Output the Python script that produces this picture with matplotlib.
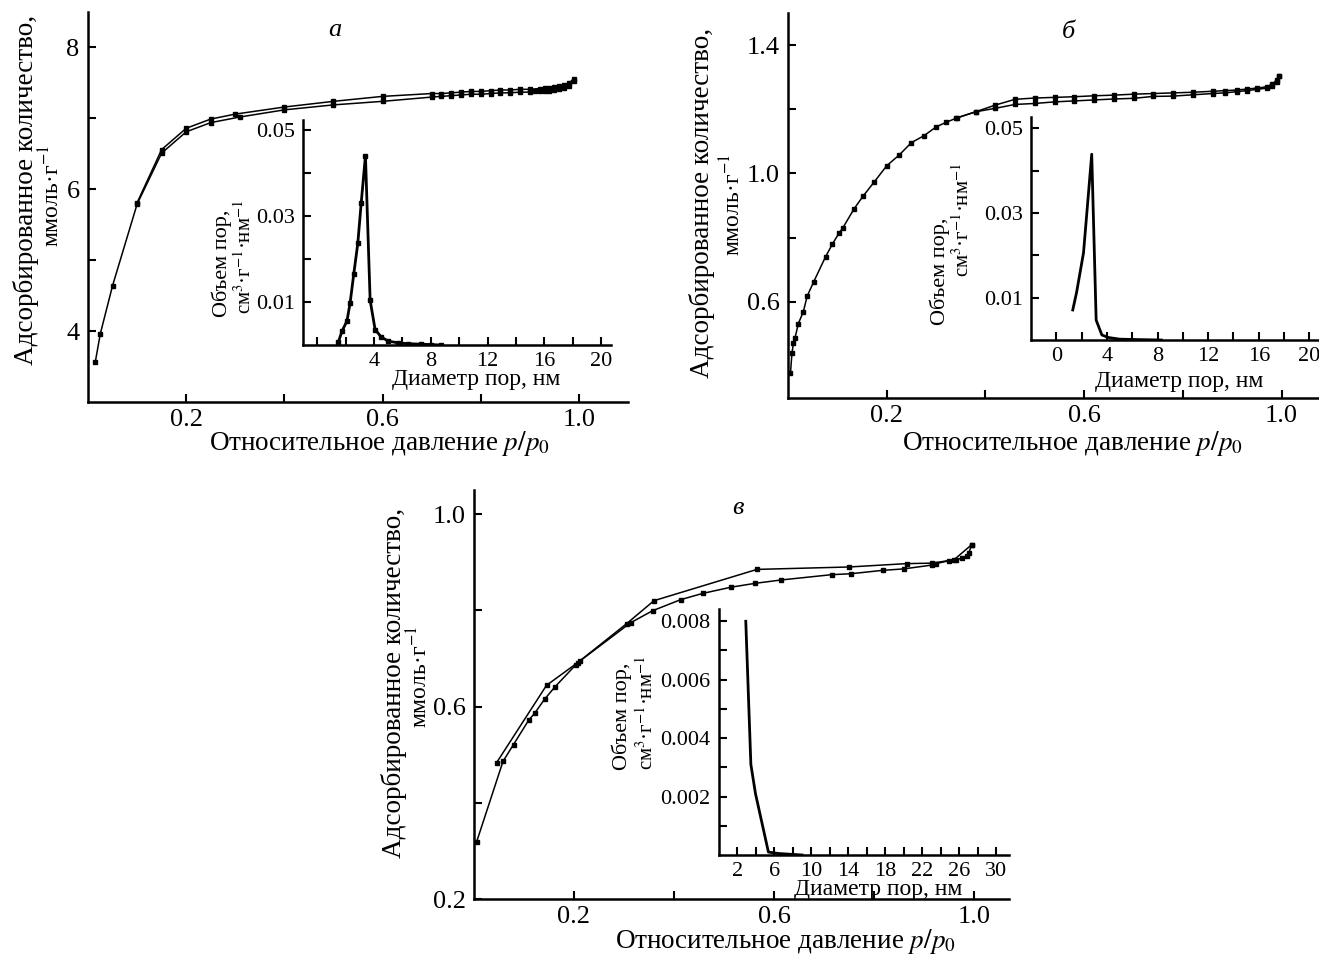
import matplotlib
matplotlib.use("Agg")
import matplotlib.pyplot as plt
from matplotlib.ticker import FixedLocator, FormatStrFormatter

plt.rcParams["font.family"] = ["Liberation Serif", "DejaVu Serif"]
plt.rcParams["mathtext.fontset"] = "stix"

W, H = 1319, 956

# --- panel a: isotherm ---
a_ads_x = [0.015, 0.025, 0.05, 0.10, 0.15, 0.20, 0.25, 0.31, 0.40, 0.50, 0.60, 0.70, 0.72, 0.74,
           0.76, 0.78, 0.80, 0.82, 0.84, 0.86, 0.88, 0.90, 0.91, 0.92, 0.93, 0.94, 0.95, 0.96,
           0.97, 0.98, 0.99]
a_ads_y = [3.57, 3.96, 4.64, 5.79, 6.51, 6.81, 6.94, 7.02, 7.12, 7.19, 7.24, 7.30, 7.31, 7.32,
           7.33, 7.34, 7.34, 7.35, 7.36, 7.36, 7.37, 7.37, 7.38, 7.38, 7.39, 7.39, 7.40, 7.41,
           7.43, 7.46, 7.52]
a_des_x = [0.99, 0.98, 0.97, 0.96, 0.95, 0.94, 0.93, 0.92, 0.90, 0.88, 0.86, 0.84, 0.82, 0.80,
           0.78, 0.76, 0.74, 0.72, 0.70, 0.60, 0.50, 0.40, 0.30, 0.25, 0.20, 0.15, 0.10]
a_des_y = [7.56, 7.50, 7.47, 7.45, 7.44, 7.43, 7.43, 7.42, 7.41, 7.41, 7.40, 7.40, 7.39, 7.38,
           7.38, 7.37, 7.36, 7.35, 7.35, 7.31, 7.24, 7.16, 7.06, 6.99, 6.86, 6.56, 5.81]
# panel a: pore size distribution
a_pore_x = [1.5, 1.76, 2.1, 2.32, 2.58, 2.86, 3.1, 3.4, 3.73, 4.08, 4.5, 5.0, 5.7, 6.4, 7.3, 8.0, 8.7]
a_pore_y = [0.0008, 0.0033, 0.0056, 0.0098, 0.0166, 0.0236, 0.033, 0.044, 0.0104, 0.0036,
            0.0019, 0.0009, 0.0005, 0.0003, 0.0002, 0.0001, 0.0]

# --- panel б ---
b_ads_x = [0.005, 0.008, 0.011, 0.014, 0.021, 0.031, 0.039, 0.052, 0.076, 0.09, 0.103, 0.111,
           0.134, 0.152, 0.175, 0.20, 0.225, 0.25, 0.276, 0.30, 0.32, 0.342, 0.38, 0.42, 0.46,
           0.50, 0.54, 0.58, 0.62, 0.66, 0.70, 0.74, 0.78, 0.82, 0.86, 0.885, 0.91, 0.93, 0.95,
           0.97, 0.98, 0.99, 0.995]
b_ads_y = [0.377, 0.44, 0.47, 0.486, 0.532, 0.569, 0.618, 0.662, 0.74, 0.78, 0.813, 0.83,
           0.89, 0.929, 0.974, 1.024, 1.057, 1.096, 1.118, 1.145, 1.159, 1.173, 1.192, 1.203, 1.215,
           1.218, 1.223, 1.226, 1.229, 1.232, 1.234, 1.24, 1.241, 1.245, 1.249, 1.251, 1.255, 1.258,
           1.262, 1.266, 1.273, 1.285, 1.303]
b_des_x = [0.995, 0.99, 0.98, 0.97, 0.95, 0.93, 0.91, 0.885, 0.86, 0.82, 0.78, 0.74, 0.70,
           0.66, 0.62, 0.58, 0.54, 0.50, 0.46, 0.42, 0.38, 0.34]
b_des_y = [1.303, 1.29, 1.278, 1.27, 1.266, 1.263, 1.26, 1.258, 1.256, 1.253, 1.251, 1.249,
           1.247, 1.244, 1.242, 1.239, 1.237, 1.235, 1.231, 1.213, 1.192, 1.172]
b_pore_x = [1.3, 1.6, 2.15, 2.8, 3.15, 3.6, 4.1, 5.0, 6.4, 8.3]
b_pore_y = [0.0071, 0.0112, 0.0206, 0.0439, 0.0047, 0.0012, 0.0006, 0.0002, 0.0001, 0.0]

# --- panel в ---
v_ads_x = [0.005, 0.058, 0.079, 0.109, 0.122, 0.141, 0.162, 0.203, 0.211, 0.313, 0.357, 0.413,
           0.457, 0.514, 0.562, 0.614, 0.715, 0.754, 0.817, 0.859, 0.916, 0.924, 0.95, 0.963,
           0.975, 0.985, 0.99, 0.995]
v_ads_y = [0.318, 0.486, 0.521, 0.571, 0.587, 0.615, 0.641, 0.686, 0.694, 0.774, 0.799, 0.822,
           0.835, 0.848, 0.856, 0.863, 0.874, 0.876, 0.883, 0.886, 0.894, 0.897, 0.903, 0.905,
           0.908, 0.912, 0.92, 0.936]
v_des_x = [0.995, 0.96, 0.916, 0.865, 0.75, 0.566, 0.36, 0.305, 0.207, 0.145, 0.045]
v_des_y = [0.936, 0.905, 0.898, 0.897, 0.89, 0.885, 0.82, 0.772, 0.691, 0.644, 0.483]
v_pore_x = [2.9, 3.45, 3.95, 5.35, 6.5, 9.0]
v_pore_y = [0.0080, 0.0031, 0.0021, 0.0001, 0.00005, 0.0]

xlab_main = "Относительное давление $p/p_0$"
ylab_main1 = "Адсорбированное количество,"
ylab_main2 = "ммоль·г$^{-1}$"
xlab_ins = "Диаметр пор, нм"
ylab_ins1 = "Объем пор,"
ylab_ins2 = "см$^3$·г$^{-1}$·нм$^{-1}$"

fig = plt.figure(figsize=(W / 100, H / 100), dpi=100)


def add_ax(l, t, r, b):
    return fig.add_axes([l / W, 1 - b / H, (r - l) / W, (b - t) / H])


def ftext(x, y, s, **kw):
    fig.text(x / W, 1 - y / H, s, ha="center", va="center", **kw)


def style(ax, xmaj, xmin, ymaj, ymin, fs, xfmt, yfmt, lw=1.8):
    for s in ["top", "right"]:
        ax.spines[s].set_visible(False)
    for s in ["left", "bottom"]:
        ax.spines[s].set_linewidth(lw)
    ax.patch.set_alpha(0)
    ax.xaxis.set_major_locator(FixedLocator(xmaj))
    ax.xaxis.set_minor_locator(FixedLocator(xmin))
    ax.yaxis.set_major_locator(FixedLocator(ymaj))
    ax.yaxis.set_minor_locator(FixedLocator(ymin))
    ax.xaxis.set_major_formatter(FormatStrFormatter(xfmt))
    ax.yaxis.set_major_formatter(FormatStrFormatter(yfmt))
    ax.tick_params(which="both", direction="in", length=6, width=1.5, labelsize=fs)
    ax.tick_params(axis="y", pad=6)
    ax.tick_params(axis="x", pad=5)


main_kw = dict(color="black", lw=1.1, marker="s", markersize=3.5)
ins_kw = dict(color="black", lw=2.0)

# ---------- panel a ----------
ax = add_ax(88, 12, 628, 402)
ax.plot(a_ads_x, a_ads_y, **main_kw)
ax.plot(a_des_x, a_des_y, **main_kw)
ax.set_xlim(0, 1.1)
ax.set_ylim(3.0, 8.5)
style(ax, [0.2, 0.6, 1.0], [0.4, 0.8], [4, 6, 8], [5, 7], 19, "%.1f", "%d")

axi = add_ax(303, 120, 611, 345)
axi.plot(a_pore_x, a_pore_y, marker="s", markersize=2.2, **ins_kw)
axi.set_xlim(-1, 20.7)
axi.set_ylim(0, 0.0523)
style(axi, [4, 8, 12, 16, 20], [0, 2, 6, 10, 14, 18], [0.01, 0.03, 0.05], [0.02, 0.04],
      16, "%d", "%.2f")

ftext(26, 190, ylab_main1, rotation=90, fontsize=19.5)
ftext(52, 196, ylab_main2, rotation=90, fontsize=17)
ftext(379, 443, xlab_main, fontsize=19.5)
ftext(476, 379, xlab_ins, fontsize=17)
ftext(222, 263, ylab_ins1, rotation=90, fontsize=16)
ftext(245, 257, ylab_ins2, rotation=90, fontsize=15)
ftext(335, 30, "а", fontsize=19, style="italic")

# ---------- panel б ----------
ax = add_ax(788, 13, 1331, 398)
ax.plot(b_ads_x, b_ads_y, **main_kw)
ax.plot(b_des_x, b_des_y, **main_kw)
ax.set_xlim(0, 1.1)
ax.set_ylim(0.3, 1.5)
style(ax, [0.2, 0.6, 1.0], [0.4, 0.8], [0.6, 1.0, 1.4], [0.8, 1.2], 19, "%.1f", "%.1f")

axi = add_ax(1031, 117, 1322, 340)
axi.plot(b_pore_x, b_pore_y, **ins_kw)
axi.set_xlim(-2, 21)
axi.set_ylim(0, 0.0527)
style(axi, [0, 4, 8, 12, 16, 20], [2, 6, 10, 14, 18], [0.01, 0.03, 0.05], [0.02, 0.04],
      16, "%d", "%.2f")

ftext(702, 203, ylab_main1, rotation=90, fontsize=19.5)
ftext(733, 205, ylab_main2, rotation=90, fontsize=17)
ftext(1072, 443, xlab_main, fontsize=19.5)
ftext(1179, 381, xlab_ins, fontsize=17)
ftext(940, 271, ylab_ins1, rotation=90, fontsize=16)
ftext(963, 220, ylab_ins2, rotation=90, fontsize=15)
ftext(1068, 32, "б", fontsize=19, style="italic")

# ---------- panel в ----------
ax = add_ax(474, 490, 1009, 899)
ax.plot(v_ads_x, v_ads_y, **main_kw)
ax.plot(v_des_x, v_des_y, **main_kw)
ax.set_xlim(0, 1.07)
ax.set_ylim(0.2, 1.05)
style(ax, [0.2, 0.6, 1.0], [0.4, 0.8], [0.2, 0.6, 1.0], [0.4, 0.8], 19, "%.1f", "%.1f")

axi = add_ax(719, 609, 1009, 855)
axi.plot(v_pore_x, v_pore_y, **ins_kw)
axi.set_xlim(0, 31.4)
axi.set_ylim(0, 0.00842)
style(axi, [2, 6, 10, 14, 18, 22, 26, 30], [4, 8, 12, 16, 20, 24, 28],
      [0.002, 0.004, 0.006, 0.008], [0.001, 0.003, 0.005, 0.007], 16, "%d", "%.3f")

ftext(394, 683, ylab_main1, rotation=90, fontsize=19.5)
ftext(420, 677, ylab_main2, rotation=90, fontsize=17)
ftext(785, 942, xlab_main, fontsize=19.5)
ftext(878, 889, xlab_ins, fontsize=17)
ftext(622, 716, ylab_ins1, rotation=90, fontsize=16)
ftext(647, 713, ylab_ins2, rotation=90, fontsize=15)
ftext(738, 508, "в", fontsize=19, style="italic")

fig.savefig("out.png", dpi=100)
plt.close(fig)
